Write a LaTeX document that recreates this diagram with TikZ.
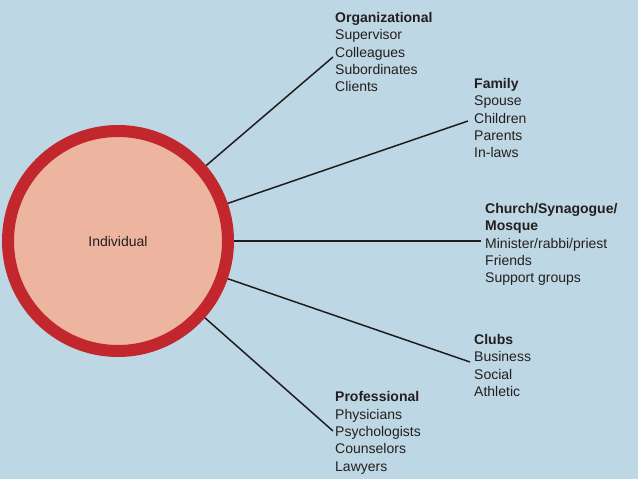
\documentclass[tikz,border=0pt]{standalone}
\usepackage{fontspec}
\setmainfont{Liberation Sans}
\definecolor{bgblue}{HTML}{BED7E4}
\definecolor{ringred}{HTML}{C1272D}
\definecolor{salmon}{HTML}{EDB49F}
\definecolor{inkgray}{HTML}{231F20}
\tikzset{
  grouptext/.style={anchor=north west, inner sep=0pt, align=left, text=inkgray,
    font=\fontsize{14}{17.3}\selectfont},
  spoke/.style={line width=1.5pt, draw=inkgray!95!black}
}
\begin{document}
\begin{tikzpicture}[x=1pt, y=-1pt]
  % === background ===
  \fill[bgblue] (0,0) rectangle (638,479);
  \useasboundingbox (0,0) rectangle (638,479);
  % === Individual ===
  \node[circle, draw=ringred, line width=12pt, fill=salmon, minimum size=220pt,
    inner sep=0pt, text=inkgray, font=\fontsize{14}{17}\selectfont] (indiv) at (118,241) {Individual};
  % === groups ===
  \node[grouptext] (org) at (335,12.3) {\textbf{Organizational}\\Supervisor\\Colleagues\\Subordinates\\Clients};
  \node[grouptext] (fam) at (474,78.3) {\textbf{Family}\\Spouse\\Children\\Parents\\In-laws};
  \node[grouptext] (church) at (485,203.1) {\textbf{Church/Synagogue/}\\\textbf{Mosque}\\Minister/rabbi/priest\\Friends\\Support groups};
  \node[grouptext] (clubs) at (474,334.1) {\textbf{Clubs}\\Business\\Social\\Athletic};
  \node[grouptext] (prof) at (335,391.5) {\textbf{Professional}\\Physicians\\Psychologists\\Counselors\\Lawyers};
  % === spoke ends ===
  \coordinate (orgEnd) at (333,57);
  \coordinate (famEnd) at (468,121);
  \coordinate (churchEnd) at (481,241);
  \coordinate (clubsEnd) at (470,362);
  \coordinate (profEnd) at (333,431);
  % === spokes ===
  \foreach \e in {orgEnd,famEnd,churchEnd,clubsEnd,profEnd}
    \draw[spoke] (indiv) -- (\e);
\end{tikzpicture}
\end{document}
